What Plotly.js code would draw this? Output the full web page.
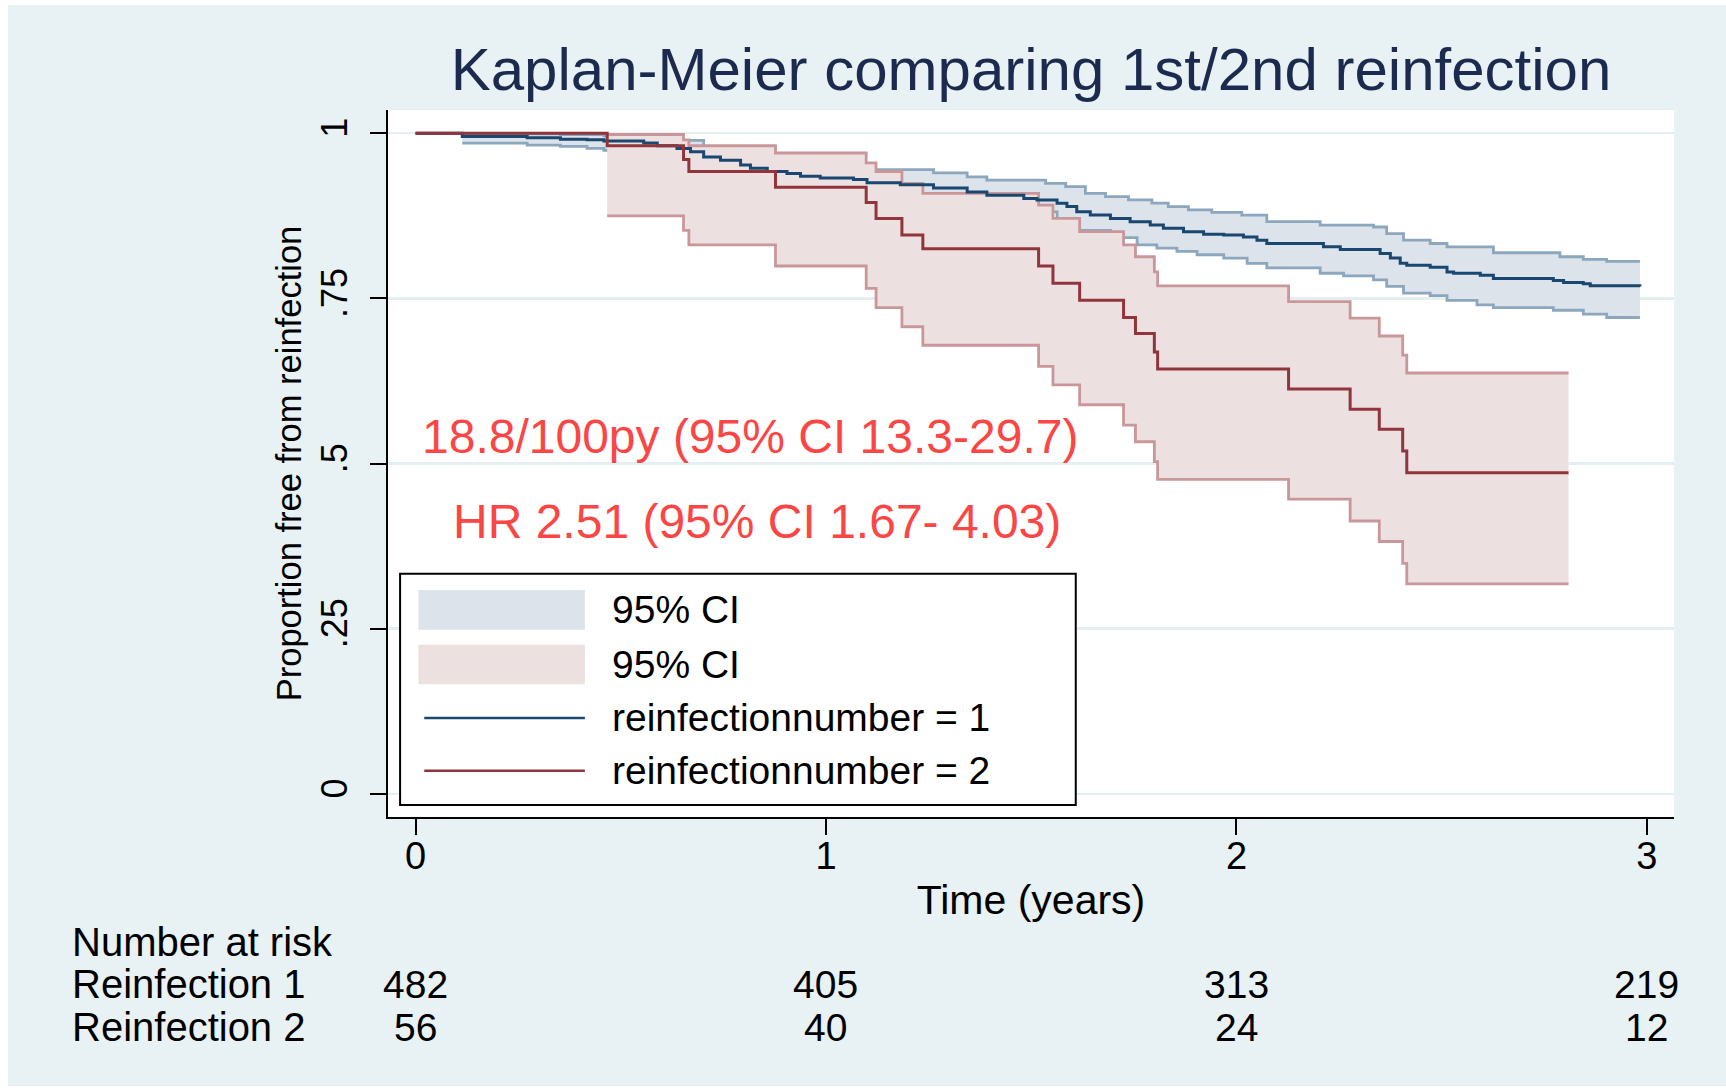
<!DOCTYPE html>
<html>
<head>
<meta charset="utf-8">
<script src="https://cdn.plot.ly/plotly-3.0.1.min.js"></script>
<style>
  html, body { margin: 0; padding: 0; background: #ffffff; width: 1726px; height: 1090px; overflow: hidden; }
  #chart { position: absolute; left: 8px; top: 5px; width: 1718px; height: 1081px; }
</style>
</head>
<body>
<div id="chart"></div>
<script>
// ---------- data ----------
const titleText = "Kaplan-Meier comparing 1st/2nd reinfection";

// Reinfection 1: Kaplan-Meier estimate
const blueTime = [0, 0.114, 0.272, 0.353, 0.418, 0.459, 0.556, 0.589, 0.637, 0.670, 0.702, 0.743, 0.792, 0.816, 0.857, 0.905, 0.938, 0.986, 1.067, 1.100, 1.181, 1.262, 1.344, 1.392, 1.482, 1.514, 1.563, 1.587, 1.611, 1.644, 1.693, 1.741, 1.790, 1.822, 1.871, 1.920, 1.969, 2.017, 2.050, 2.074, 2.212, 2.253, 2.350, 2.375, 2.399, 2.415, 2.472, 2.513, 2.529, 2.594, 2.626, 2.772, 2.797, 2.845, 2.862, 2.983];
const blueSurv = [1.000, 0.995, 0.993, 0.991, 0.990, 0.988, 0.985, 0.981, 0.977, 0.972, 0.964, 0.959, 0.952, 0.947, 0.942, 0.939, 0.935, 0.932, 0.930, 0.925, 0.922, 0.917, 0.911, 0.906, 0.901, 0.899, 0.894, 0.889, 0.881, 0.876, 0.871, 0.866, 0.861, 0.856, 0.851, 0.847, 0.846, 0.843, 0.838, 0.833, 0.828, 0.824, 0.818, 0.811, 0.803, 0.800, 0.797, 0.790, 0.788, 0.785, 0.780, 0.777, 0.774, 0.772, 0.769, 0.768];

// Reinfection 1: 95% CI bounds
const blueHighTime = [0.114, 0.353, 0.459, 0.556, 0.637, 0.702, 0.743, 0.816, 0.905, 0.986, 1.100, 1.262, 1.344, 1.392, 1.535, 1.584, 1.632, 1.681, 1.737, 1.794, 1.834, 1.883, 1.940, 2.013, 2.074, 2.204, 2.334, 2.366, 2.407, 2.472, 2.513, 2.626, 2.788, 2.845, 2.902, 2.983];
const blueHigh     = [0.999, 0.998, 0.996, 0.994, 0.989, 0.980, 0.975, 0.965, 0.957, 0.951, 0.945, 0.940, 0.934, 0.929, 0.924, 0.919, 0.909, 0.904, 0.899, 0.894, 0.889, 0.884, 0.880, 0.876, 0.866, 0.861, 0.858, 0.848, 0.838, 0.833, 0.828, 0.819, 0.813, 0.809, 0.806, 0.806];
const blueLowTime  = [0.114, 0.272, 0.353, 0.418, 0.459, 0.556, 0.637, 0.702, 0.792, 0.857, 0.986, 1.100, 1.262, 1.392, 1.563, 1.611, 1.693, 1.758, 1.806, 1.855, 1.904, 1.969, 2.026, 2.074, 2.204, 2.261, 2.334, 2.366, 2.407, 2.472, 2.513, 2.586, 2.626, 2.772, 2.845, 2.902, 2.983];
const blueLow      = [0.985, 0.982, 0.980, 0.977, 0.974, 0.971, 0.963, 0.950, 0.934, 0.922, 0.910, 0.902, 0.892, 0.881, 0.866, 0.853, 0.842, 0.831, 0.826, 0.821, 0.816, 0.811, 0.803, 0.796, 0.788, 0.784, 0.778, 0.768, 0.758, 0.754, 0.747, 0.740, 0.736, 0.732, 0.726, 0.721, 0.721];

// Reinfection 2: Kaplan-Meier estimate
const redTime = [0, 0.467, 0.653, 0.666, 0.877, 1.098, 1.122, 1.185, 1.236, 1.518, 1.553, 1.618, 1.725, 1.754, 1.800, 1.808, 2.127, 2.277, 2.348, 2.405, 2.415, 2.809];
const redSurv = [1.000, 0.981, 0.960, 0.942, 0.918, 0.895, 0.871, 0.846, 0.825, 0.799, 0.773, 0.747, 0.721, 0.697, 0.669, 0.643, 0.613, 0.582, 0.552, 0.519, 0.486, 0.486];

// Reinfection 2: 95% CI bounds
const redCiTime = [0.467, 0.653, 0.666, 0.877, 1.098, 1.122, 1.185, 1.236, 1.518, 1.553, 1.618, 1.725, 1.754, 1.800, 1.808, 2.127, 2.277, 2.348, 2.405, 2.415, 2.809];
const redHigh   = [0.998, 0.990, 0.981, 0.970, 0.955, 0.942, 0.924, 0.909, 0.891, 0.871, 0.851, 0.831, 0.813, 0.790, 0.769, 0.745, 0.720, 0.693, 0.664, 0.637, 0.637];
const redLow    = [0.875, 0.853, 0.831, 0.799, 0.765, 0.736, 0.707, 0.679, 0.647, 0.619, 0.589, 0.558, 0.533, 0.503, 0.476, 0.446, 0.413, 0.382, 0.349, 0.318, 0.318];

// Axis ticks
const xTickVals = [0, 1, 2, 3];
const xTickText = ["0", "1", "2", "3"];
const yTickVals = [0, 0.25, 0.5, 0.75, 1];
const yTickText = ["0", ".25", ".5", ".75", "1"];

// Number at risk table
const riskTimes = [0, 1, 2, 3];
const riskGroup1 = [482, 405, 313, 219];
const riskGroup2 = [56, 40, 24, 12];
const riskRowLabels = ["Number at risk", "Reinfection 1", "Reinfection 2"];

// Legend and annotation texts
const legendLabels = ["95% CI", "95% CI", "reinfectionnumber = 1", "reinfectionnumber = 2"];
const noteTexts = ["18.8/100py (95% CI 13.3-29.7)", "HR 2.51 (95% CI 1.67- 4.03)"];

// ---------- styles ----------
const FONT = "Liberation Sans, Arial, Helvetica, sans-serif";
const BG = "#e8f1f3";
const GRID = "#e5eef0";
const BLUE = "#1a476f", BLUE_CI = "#8ca6bd", BLUE_FILL = "#dce3ea";
const RED = "#90353b", RED_CI = "#c9969a", RED_FILL = "#ede0e1";
const NOTE_RED = "#fb4646";

const traces = [
  {x: blueLowTime, y: blueLow, mode: "lines", line: {shape: "hv", color: BLUE_CI, width: 2.8}, hoverinfo: "skip", showlegend: false},
  {x: blueHighTime, y: blueHigh, mode: "lines", fill: "tonexty", fillcolor: BLUE_FILL, line: {shape: "hv", color: BLUE_CI, width: 2.8}, hoverinfo: "skip", showlegend: false},
  {x: redCiTime, y: redLow, mode: "lines", line: {shape: "hv", color: RED_CI, width: 2.8}, hoverinfo: "skip", showlegend: false},
  {x: redCiTime, y: redHigh, mode: "lines", fill: "tonexty", fillcolor: RED_FILL, line: {shape: "hv", color: RED_CI, width: 2.8}, hoverinfo: "skip", showlegend: false},
  {x: blueTime, y: blueSurv, mode: "lines", line: {shape: "hv", color: BLUE, width: 3}, hoverinfo: "skip", showlegend: false},
  {x: redTime, y: redSurv, mode: "lines", line: {shape: "hv", color: RED, width: 3}, hoverinfo: "skip", showlegend: false}
];

// ---------- legend (drawn by hand, in paper coordinates) ----------
const lgBox = {x0: 0.0094, x1: 0.5348, y0: 0.0171, y1: 0.3442};
const lgSwX = [0.0237, 0.1531];
const lgLineX = [0.0282, 0.1531];
const lgRowY = [0.2928, 0.2157, 0.1402, 0.0654];
const lgSwH = 0.0562;
const lgTextX = 0.1730;

const shapes = [
  {type: "rect", xref: "paper", yref: "paper", x0: lgBox.x0, x1: lgBox.x1, y0: lgBox.y0, y1: lgBox.y1,
   line: {color: "#000000", width: 2}, fillcolor: "#ffffff", layer: "above"},
  {type: "rect", xref: "paper", yref: "paper", x0: lgSwX[0], x1: lgSwX[1], y0: lgRowY[0] - lgSwH / 2, y1: lgRowY[0] + lgSwH / 2,
   line: {width: 0}, fillcolor: BLUE_FILL, layer: "above"},
  {type: "rect", xref: "paper", yref: "paper", x0: lgSwX[0], x1: lgSwX[1], y0: lgRowY[1] - lgSwH / 2, y1: lgRowY[1] + lgSwH / 2,
   line: {width: 0}, fillcolor: RED_FILL, layer: "above"},
  {type: "line", xref: "paper", yref: "paper", x0: lgLineX[0], x1: lgLineX[1], y0: lgRowY[2], y1: lgRowY[2],
   line: {color: BLUE, width: 2.5}, layer: "above"},
  {type: "line", xref: "paper", yref: "paper", x0: lgLineX[0], x1: lgLineX[1], y0: lgRowY[3], y1: lgRowY[3],
   line: {color: RED, width: 2.5}, layer: "above"}
];

const annotations = [];
legendLabels.forEach((t, i) => {
  annotations.push({text: t, xref: "paper", yref: "paper", x: lgTextX, y: lgRowY[i], xanchor: "left", yanchor: "middle",
    showarrow: false, font: {family: FONT, size: 39, color: "#000000"}});
});
// red notes
annotations.push({text: noteTexts[0], xref: "paper", yref: "paper", x: 0.2818, y: 0.5388, xanchor: "center", yanchor: "middle",
  showarrow: false, font: {family: FONT, size: 48, color: NOTE_RED}});
annotations.push({text: noteTexts[1], xref: "paper", yref: "paper", x: 0.2872, y: 0.4185, xanchor: "center", yanchor: "middle",
  showarrow: false, font: {family: FONT, size: 48, color: NOTE_RED}});
// number at risk
const riskRowY = [-0.1771, -0.2366, -0.2974];
riskRowLabels.forEach((t, i) => {
  annotations.push({text: t, xref: "paper", yref: "paper", x: -0.2472, y: riskRowY[i], xanchor: "left", yanchor: "middle",
    showarrow: false, font: {family: FONT, size: 40, color: "#000000"}});
});
riskTimes.forEach((t, i) => {
  annotations.push({text: String(riskGroup1[i]), xref: "x", yref: "paper", x: t, y: riskRowY[1], xanchor: "center", yanchor: "middle",
    showarrow: false, font: {family: FONT, size: 39, color: "#000000"}});
  annotations.push({text: String(riskGroup2[i]), xref: "x", yref: "paper", x: t, y: riskRowY[2], xanchor: "center", yanchor: "middle",
    showarrow: false, font: {family: FONT, size: 39, color: "#000000"}});
});

const layout = {
  width: 1718, height: 1081,
  paper_bgcolor: BG, plot_bgcolor: "#ffffff",
  margin: {l: 380, r: 52, t: 105, b: 269, pad: 0},
  showlegend: false,
  hovermode: false,
  font: {family: FONT, color: "#000000"},
  title: {text: titleText, font: {family: FONT, size: 60, color: "#1c2a4f"},
          xref: "paper", x: 0.5, xanchor: "center", yref: "container", y: 0.9405, yanchor: "middle"},
  xaxis: {
    range: [-0.067, 3.066], tickvals: xTickVals, ticktext: xTickText,
    ticks: "outside", ticklen: 16, tickwidth: 2, tickcolor: "#000000",
    showline: true, linecolor: "#000000", linewidth: 2,
    showgrid: false, zeroline: false,
    ticklabelstandoff: -12,
    tickfont: {family: FONT, size: 38, color: "#000000"},
    title: {text: "Time (years)", font: {family: FONT, size: 41, color: "#000000"}, standoff: 10},
    fixedrange: true
  },
  yaxis: {
    range: [-0.035, 1.0351], tickvals: yTickVals, ticktext: yTickText, tickangle: -90,
    ticks: "outside", ticklen: 16, tickwidth: 2, tickcolor: "#000000",
    showline: true, linecolor: "#000000", linewidth: 2,
    showgrid: true, gridcolor: GRID, gridwidth: 2.5, zeroline: false,
    ticklabelstandoff: 9,
    tickfont: {family: FONT, size: 36, color: "#000000"},
    title: {text: "Proportion free from reinfection", font: {family: FONT, size: 34.5, color: "#000000"}, standoff: 2},
    fixedrange: true
  },
  shapes: shapes,
  annotations: annotations
};

Plotly.newPlot("chart", traces, layout, {displayModeBar: false, staticPlot: true});
</script>
</body>
</html>
